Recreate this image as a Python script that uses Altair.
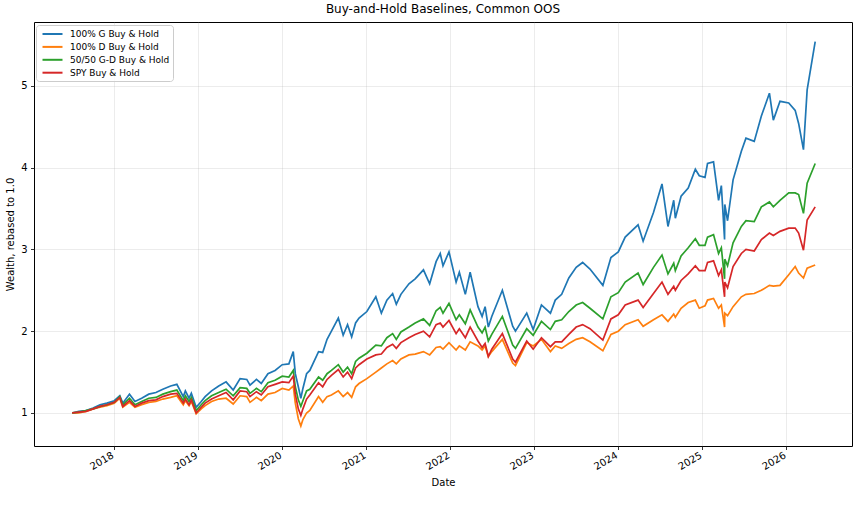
import altair as alt
import pandas as pd

# Observation dates (irregular: month starts plus turning points)
dates = [
    "2017-07-03", "2017-08-01", "2017-09-01", "2017-10-02", "2017-11-01", "2017-12-01",
    "2018-01-02", "2018-01-26", "2018-02-08", "2018-03-09", "2018-04-02", "2018-05-01",
    "2018-06-01", "2018-07-02", "2018-08-01", "2018-09-04", "2018-10-01", "2018-10-29",
    "2018-11-07", "2018-11-23", "2018-12-03", "2018-12-24",
    "2019-01-15", "2019-02-01", "2019-03-01", "2019-04-01", "2019-05-03", "2019-06-03",
    "2019-07-03", "2019-08-01", "2019-08-15", "2019-09-12", "2019-10-03", "2019-11-01",
    "2019-12-02",
    "2020-01-02", "2020-01-31", "2020-02-19", "2020-02-28", "2020-03-12", "2020-03-23",
    "2020-04-01", "2020-04-17", "2020-05-01", "2020-06-08", "2020-06-26", "2020-07-15",
    "2020-08-03", "2020-09-02", "2020-09-23", "2020-10-12", "2020-10-30", "2020-11-16",
    "2020-12-01",
    "2021-01-04", "2021-02-12", "2021-03-08", "2021-04-01", "2021-04-26", "2021-05-12",
    "2021-06-01", "2021-07-06", "2021-08-02", "2021-09-07", "2021-10-04", "2021-11-01",
    "2021-11-19", "2021-12-01", "2021-12-27",
    "2022-01-27", "2022-02-10", "2022-03-08", "2022-03-29", "2022-05-02", "2022-05-20",
    "2022-06-02", "2022-06-16", "2022-07-01", "2022-08-16", "2022-09-30", "2022-10-12",
    "2022-11-30", "2022-12-28",
    "2023-02-02", "2023-03-13", "2023-04-03", "2023-05-01", "2023-06-01", "2023-07-03",
    "2023-07-31", "2023-09-01", "2023-10-27", "2023-12-01",
    "2024-01-02", "2024-02-01", "2024-03-28", "2024-04-19", "2024-06-03", "2024-07-10",
    "2024-08-05", "2024-08-30", "2024-09-06", "2024-10-01", "2024-11-01", "2024-12-02",
    "2024-12-19",
    "2025-01-13", "2025-01-24", "2025-02-19", "2025-03-13", "2025-03-25", "2025-04-08",
    "2025-04-09", "2025-04-21", "2025-05-15", "2025-06-20", "2025-07-10", "2025-08-15",
    "2025-09-15", "2025-10-20", "2025-11-06", "2025-12-05",
    "2026-01-12", "2026-02-09", "2026-02-24", "2026-03-17", "2026-04-02", "2026-05-07",
]

# Wealth paths, each rebased to 1.0 at the first date
g_hold = [
    1.00, 1.02, 1.03, 1.06, 1.10, 1.12,
    1.15, 1.21, 1.12, 1.23, 1.14, 1.18,
    1.23, 1.25, 1.29, 1.33, 1.35, 1.20,
    1.27, 1.18, 1.24, 1.07,
    1.14, 1.20, 1.27, 1.33, 1.38, 1.28,
    1.42, 1.41, 1.34, 1.41, 1.36, 1.48,
    1.52,
    1.59, 1.60, 1.75, 1.48, 1.32, 1.18,
    1.30, 1.48, 1.52, 1.75, 1.74, 1.90,
    2.00, 2.16, 1.95, 2.08, 1.93, 2.10,
    2.16,
    2.24, 2.42, 2.22, 2.38, 2.46, 2.33,
    2.45, 2.58, 2.64, 2.75, 2.58, 2.85,
    2.95, 2.80, 2.97,
    2.60, 2.72, 2.45, 2.72, 2.30, 2.18,
    2.30, 2.05, 2.18, 2.50, 2.06, 2.00,
    2.22, 2.02,
    2.32, 2.22, 2.38, 2.45, 2.65, 2.78,
    2.84, 2.76, 2.56, 2.90,
    2.97, 3.15, 3.30, 3.10, 3.45, 3.80,
    3.28, 3.60, 3.38, 3.65, 3.75, 3.98,
    3.90,
    3.88, 4.05, 4.07, 3.60, 3.78, 3.12,
    3.55, 3.35, 3.85, 4.20, 4.36, 4.32,
    4.63, 4.91, 4.58, 4.81,
    4.79, 4.70, 4.54, 4.22, 4.95, 5.54,
]

d_hold = [
    1.00, 1.00, 1.02, 1.05, 1.07, 1.09,
    1.12, 1.18, 1.07, 1.13, 1.07, 1.10,
    1.13, 1.14, 1.17, 1.19, 1.21, 1.10,
    1.15, 1.09, 1.14, 0.99,
    1.05, 1.09, 1.14, 1.17, 1.18, 1.11,
    1.21, 1.20, 1.13, 1.19, 1.15, 1.23,
    1.25,
    1.30, 1.28, 1.33, 1.12, 0.93, 0.84,
    0.92, 1.00, 1.03, 1.20, 1.13, 1.20,
    1.22, 1.27, 1.20, 1.25, 1.19, 1.32,
    1.36,
    1.42, 1.50, 1.55, 1.60, 1.64, 1.60,
    1.66, 1.71, 1.72, 1.75, 1.71, 1.80,
    1.81, 1.78, 1.86,
    1.77, 1.82, 1.77, 1.87, 1.82, 1.77,
    1.82, 1.69, 1.75, 1.90, 1.61, 1.58,
    1.86, 1.82,
    1.90, 1.75, 1.82, 1.79, 1.85, 1.90,
    1.92, 1.87, 1.76, 1.96,
    2.00, 2.08, 2.14, 2.06, 2.14, 2.20,
    2.12, 2.21, 2.17, 2.28, 2.35, 2.38,
    2.28,
    2.31, 2.38, 2.40, 2.28, 2.32, 2.05,
    2.22, 2.19, 2.30, 2.42, 2.45, 2.46,
    2.50, 2.56, 2.55, 2.56,
    2.69, 2.79, 2.71, 2.65, 2.77, 2.81,
]

gd_hold = [
    1.00, 1.01, 1.03, 1.05, 1.08, 1.10,
    1.13, 1.20, 1.10, 1.18, 1.10, 1.14,
    1.18, 1.19, 1.23, 1.26, 1.28, 1.15,
    1.21, 1.14, 1.19, 1.03,
    1.10, 1.15, 1.21, 1.25, 1.29, 1.21,
    1.31, 1.30, 1.24, 1.30, 1.26, 1.37,
    1.40,
    1.45, 1.44, 1.52, 1.32, 1.16, 1.08,
    1.15, 1.27, 1.29, 1.44, 1.40, 1.48,
    1.52, 1.59, 1.50, 1.56, 1.48, 1.63,
    1.67,
    1.73, 1.83, 1.82, 1.92, 1.97, 1.90,
    1.99, 2.05, 2.10, 2.15, 2.07, 2.25,
    2.29, 2.22, 2.34,
    2.14, 2.20, 2.09, 2.26, 2.05, 1.98,
    2.05, 1.88, 1.96, 2.18, 1.83, 1.79,
    2.03, 1.95,
    2.12, 2.02, 2.12, 2.14, 2.24, 2.32,
    2.35, 2.28, 2.15, 2.42,
    2.47, 2.60, 2.71, 2.57, 2.78, 2.93,
    2.70, 2.83, 2.74, 2.92, 3.02, 3.13,
    3.05,
    3.05, 3.15, 3.18, 2.95, 3.02, 2.64,
    2.88, 2.80, 3.08, 3.28, 3.35, 3.34,
    3.52, 3.58, 3.52, 3.60,
    3.69, 3.69, 3.67, 3.44, 3.81, 4.05,
]

spy_hold = [
    1.00, 1.01, 1.02, 1.05, 1.08, 1.10,
    1.13, 1.19, 1.08, 1.15, 1.08, 1.12,
    1.15, 1.16, 1.20, 1.23, 1.24, 1.12,
    1.17, 1.10, 1.16, 1.00,
    1.07, 1.12, 1.17, 1.21, 1.25, 1.16,
    1.27, 1.26, 1.20, 1.26, 1.22, 1.32,
    1.35,
    1.38, 1.37, 1.45, 1.23, 1.05, 0.97,
    1.05, 1.17, 1.22, 1.37, 1.32, 1.41,
    1.46, 1.53, 1.44, 1.50, 1.42, 1.55,
    1.59,
    1.66, 1.71, 1.72, 1.80, 1.84, 1.79,
    1.86, 1.92, 1.96, 2.00, 1.93, 2.08,
    2.10, 2.05, 2.13,
    1.97, 2.03, 1.92, 2.05, 1.88, 1.80,
    1.85, 1.69, 1.78, 1.97, 1.66, 1.62,
    1.88, 1.78,
    1.92, 1.81, 1.87, 1.87, 1.96, 2.05,
    2.08, 2.03, 1.89, 2.15,
    2.20, 2.32, 2.38, 2.29, 2.46, 2.60,
    2.45, 2.55, 2.50, 2.62, 2.70, 2.80,
    2.74,
    2.74, 2.84, 2.86, 2.68, 2.75, 2.42,
    2.60, 2.53, 2.79, 2.95, 3.00, 2.98,
    3.12, 3.20, 3.17, 3.22,
    3.26, 3.26, 3.20, 2.99, 3.36, 3.52,
]

series_names = ["100% G Buy & Hold", "100% D Buy & Hold", "50/50 G-D Buy & Hold", "SPY Buy & Hold"]
series_colors = ["#1f77b4", "#ff7f0e", "#2ca02c", "#d62728"]
year_ticks = list(range(2018, 2027))
wealth_ticks = [1, 2, 3, 4, 5]

frames = []
for name, vals in zip(series_names, [g_hold, d_hold, gd_hold, spy_hold]):
    frames.append(pd.DataFrame({"date": pd.to_datetime(dates), "wealth": vals, "series": name}))
df = pd.concat(frames, ignore_index=True)

font = "DejaVu Sans"

base = alt.Chart(df).mark_line(strokeWidth=1.7, clip=True).encode(
    x=alt.X(
        "date:T",
        scale=alt.Scale(domain=[alt.DateTime(year=2017, month=1, date=18),
                                alt.DateTime(year=2026, month=10, date=14)]),
        axis=alt.Axis(
            values=[alt.DateTime(year=y, month=1, date=1) for y in year_ticks],
            format="%Y", labelAngle=330, labelAlign="right", labelBaseline="top",
            labelOffset=-4, labelPadding=0.5,
            title="Date", titlePadding=6,
        ),
    ),
    y=alt.Y(
        "wealth:Q",
        scale=alt.Scale(domain=[0.596, 5.78], nice=False, zero=False),
        axis=alt.Axis(values=wealth_ticks, format="d",
                      title="Wealth, rebased to 1.0", titlePadding=5),
    ),
    color=alt.Color(
        "series:N",
        scale=alt.Scale(domain=series_names, range=series_colors),
        legend=alt.Legend(
            title=None, orient="none", legendX=2, legendY=3,
            symbolType="M-0.5,0H3.5", symbolSize=100, symbolStrokeWidth=2,
            labelOffset=19, padding=3, rowPadding=1.9,
            strokeColor="#cccccc", fillColor="rgba(255,255,255,0.8)", cornerRadius=3,
            labelFont=font, labelFontSize=9, labelColor="black", labelLimit=0,
        ),
    ),
)

# one layer per series so later series draw on top
layers = [base.transform_filter(alt.datum.series == s) for s in series_names]

chart = alt.layer(*layers).properties(
    width=818,
    height=424,
    title="Buy-and-Hold Baselines, Common OOS",
    autosize=alt.AutoSizeParams(type="none"),
    padding={"left": 34, "top": 22, "right": 7, "bottom": 72},
).configure_view(
    stroke="black", strokeWidth=1,
).configure_axis(
    domain=False, tickColor="black", tickSize=3.5, tickWidth=0.8,
    labelFont=font, labelFontSize=10, labelColor="black", labelPadding=3.5,
    titleFont=font, titleFontSize=10, titleFontWeight="normal", titleColor="black",
    gridColor="#b0b0b0", gridOpacity=0.3, gridWidth=0.8,
).configure_title(
    font=font, fontSize=12, fontWeight="normal", color="black", anchor="middle", offset=6,
)

chart.save("out.html", embed_options={"renderer": "svg", "actions": False})
